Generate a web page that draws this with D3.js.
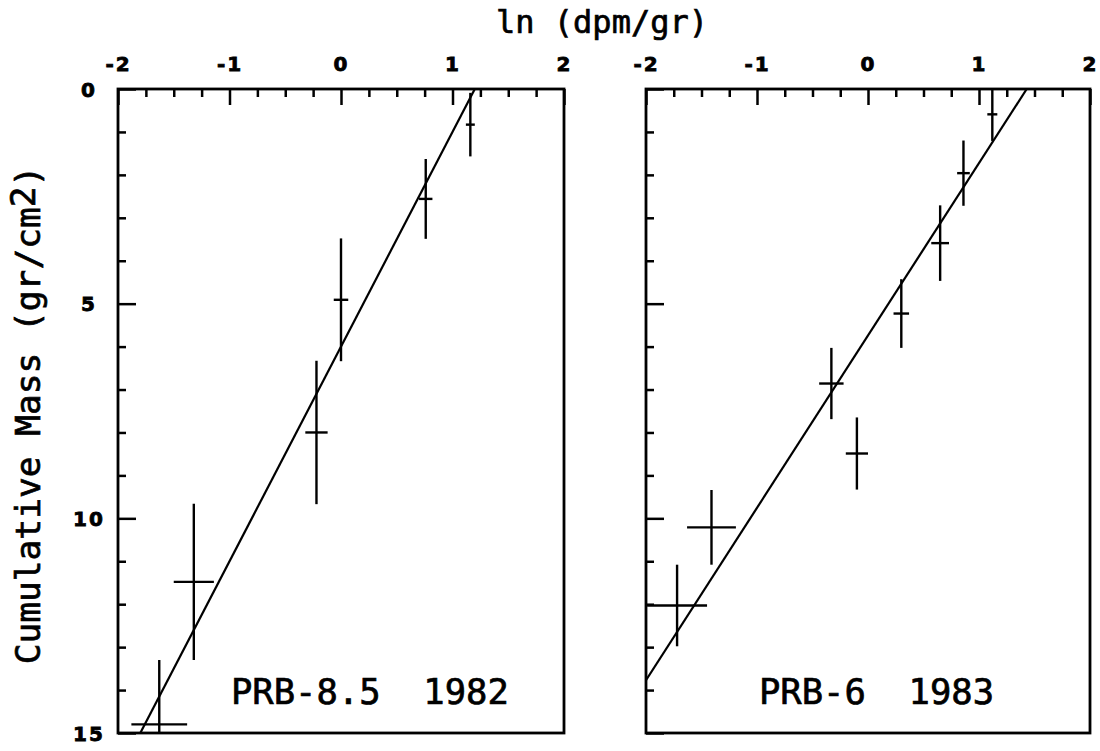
<!DOCTYPE html>
<html><head><meta charset="utf-8">
<script src="https://cdn.jsdelivr.net/npm/d3@7"></script>
<style>html,body{margin:0;padding:0;background:#fff;} svg{display:block;}</style>
</head><body>
<script>
// ---- data ----
const xTickValues = [-2, -1, 0, 1, 2];
const xTickLabels = ["-2", "-1", "0", "1", "2"];
const yTickValues = [0, 5, 10, 15];
const yTickLabels = ["0", "5", "10", "15"];

// PRB-8.5 1982
const leftX    = [1.16, 0.76, 0.00, -0.22, -1.32, -1.63];
const leftM    = [0.83, 2.56, 4.91, 8.00, 11.48, 14.80];
const leftXErr = [0.04, 0.06, 0.065, 0.10, 0.18, 0.25];
const leftMErr = [0.74, 0.93, 1.43, 1.67, 1.82, 1.50];
const leftFitX = [1.20, -1.80];
const leftFitM = [0, 15];

// PRB-6 1983
const rightX    = [1.12, 0.86, 0.65, 0.30, -0.33, -0.10, -1.41, -1.72];
const rightM    = [0.59, 1.96, 3.59, 5.23, 6.86, 8.49, 10.21, 12.03];
const rightXErr = [0.045, 0.057, 0.08, 0.07, 0.11, 0.10, 0.22, 0.27];
const rightMErr = [0.62, 0.76, 0.88, 0.80, 0.83, 0.84, 0.87, 0.95];
const rightFitX = [1.43, -2.00];
const rightFitM = [0, 13.77];

const panelLabels = ["PRB-8.5  1982", "PRB-6  1983"];
const xTitle = "ln (dpm/gr)";
const yTitleMain = "Cumulative Mass (gr/cm";
const yTitleSup = "2";
const yTitleEnd = ")";

// ---- drawing ----
(function () {
const W = 1100, H = 751;
const svg = d3.select("body").append("svg").attr("width", W).attr("height", H)
  .style("background", "#fff");

const yTop = 89, yBot = 733;
const panels = [
  {x0: 118, x1: 564, xs: leftX, ms: leftM, xe: leftXErr, me: leftMErr, fx: leftFitX, fm: leftFitM, yLabels: true, label: panelLabels[0]},
  {x0: 646, x1: 1090, xs: rightX, ms: rightM, xe: rightXErr, me: rightMErr, fx: rightFitX, fm: rightFitM, yLabels: false, label: panelLabels[1]}
];

function styleLabel(sel) {
  sel.attr("font-family", "DejaVu Sans").attr("font-weight", "bold")
    .attr("font-size", 20).attr("fill", "#000")
    .attr("stroke", "#000").attr("stroke-width", 0.8)
    .style("letter-spacing", "2px");
}

panels.forEach((p, i) => {
  const x = d3.scaleLinear().domain([-2, 2]).range([p.x0, p.x1]);
  const y = d3.scaleLinear().domain([0, 15]).range([yTop, yBot]);
  const g = svg.append("g");

  const clipId = "clip" + i;
  svg.append("clipPath").attr("id", clipId).append("rect")
    .attr("x", p.x0).attr("y", yTop).attr("width", p.x1 - p.x0).attr("height", yBot - yTop);

  // minor x ticks
  const minorX = d3.range(-2, 2.001, 0.25).filter(v => Math.abs(v - Math.round(v)) > 1e-6);
  g.append("g").attr("transform", `translate(0,${yTop})`)
    .call(d3.axisTop(x).tickValues(minorX).tickSize(-8).tickFormat(""))
    .call(a => a.select(".domain").remove())
    .call(a => a.selectAll("line").attr("stroke-width", 2.5));
  // major x ticks + labels
  g.append("g").attr("transform", `translate(0,${yTop})`)
    .call(d3.axisTop(x).tickValues(xTickValues).tickSize(-16).tickPadding(18)
      .tickFormat((d, k) => xTickLabels[k]))
    .call(a => a.select(".domain").remove())
    .call(a => a.selectAll("line").attr("stroke-width", 2.5))
    .call(a => styleLabel(a.selectAll("text")));

  // minor y ticks
  const minorY = d3.range(1, 15).filter(v => v % 5 !== 0);
  g.append("g").attr("transform", `translate(${p.x0},0)`)
    .call(d3.axisLeft(y).tickValues(minorY).tickSize(-8).tickFormat(""))
    .call(a => a.select(".domain").remove())
    .call(a => a.selectAll("line").attr("stroke-width", 2.5));
  // major y ticks
  const ya = g.append("g").attr("transform", `translate(${p.x0},0)`)
    .call(d3.axisLeft(y).tickValues(yTickValues).tickSize(-18).tickPadding(0)
      .tickFormat((d, k) => p.yLabels ? yTickLabels[k] : ""))
    .call(a => a.select(".domain").remove())
    .call(a => a.selectAll("line").attr("stroke-width", 2.5));
  styleLabel(ya.selectAll("text"));
  ya.selectAll("text").attr("text-anchor", "middle")
    .attr("x", -(p.x0 - 89)).attr("dy", "0.36em");

  // frame
  g.append("rect").attr("x", p.x0).attr("y", yTop).attr("width", p.x1 - p.x0).attr("height", yBot - yTop)
    .attr("fill", "none").attr("stroke", "#000").attr("stroke-width", 2.8);

  const cg = g.append("g").attr("clip-path", `url(#${clipId})`);

  // fit line
  const fitData = p.fx.map((v, k) => [v, p.fm[k]]);
  cg.append("path").datum(fitData)
    .attr("d", d3.line().x(d => x(d[0])).y(d => y(d[1])))
    .attr("fill", "none").attr("stroke", "#000").attr("stroke-width", 2.2);

  // error bars
  const pts = p.xs.map((v, k) => ({x: v, m: p.ms[k], xe: p.xe[k], me: p.me[k]}));
  cg.selectAll(".v").data(pts).enter().append("line")
    .attr("x1", d => x(d.x)).attr("x2", d => x(d.x))
    .attr("y1", d => y(d.m - d.me)).attr("y2", d => y(d.m + d.me))
    .attr("stroke", "#000").attr("stroke-width", 2.4);
  cg.selectAll(".h").data(pts).enter().append("line")
    .attr("x1", d => x(d.x - d.xe)).attr("x2", d => x(d.x + d.xe))
    .attr("y1", d => y(d.m)).attr("y2", d => y(d.m))
    .attr("stroke", "#000").attr("stroke-width", 2.4);

  // panel label
  g.append("text").attr("x", p.x0 + 113).attr("y", 704)
    .style("white-space", "pre")
    .attr("font-family", "DejaVu Sans Mono").attr("font-size", 35.5).attr("fill", "#000")
    .attr("stroke", "#000").attr("stroke-width", 0.7)
    .text(p.label);
});

// x title
svg.append("text").attr("x", 602).attr("y", 33).attr("text-anchor", "middle")
  .style("white-space", "pre")
  .attr("font-family", "DejaVu Sans Mono").attr("font-size", 32).attr("fill", "#000")
  .attr("stroke", "#000").attr("stroke-width", 0.7)
  .text(xTitle);

// y title
const yt = svg.append("text").attr("transform", "translate(40,415) rotate(-90)")
  .attr("text-anchor", "middle").style("white-space", "pre")
  .attr("font-family", "DejaVu Sans Mono").attr("font-size", 34.5).attr("fill", "#000")
  .attr("stroke", "#000").attr("stroke-width", 0.7);
yt.append("tspan").text(yTitleMain);
yt.append("tspan").attr("dy", -5).text(yTitleSup);
yt.append("tspan").attr("dy", 5).text(yTitleEnd);
})();
</script>
</body></html>
